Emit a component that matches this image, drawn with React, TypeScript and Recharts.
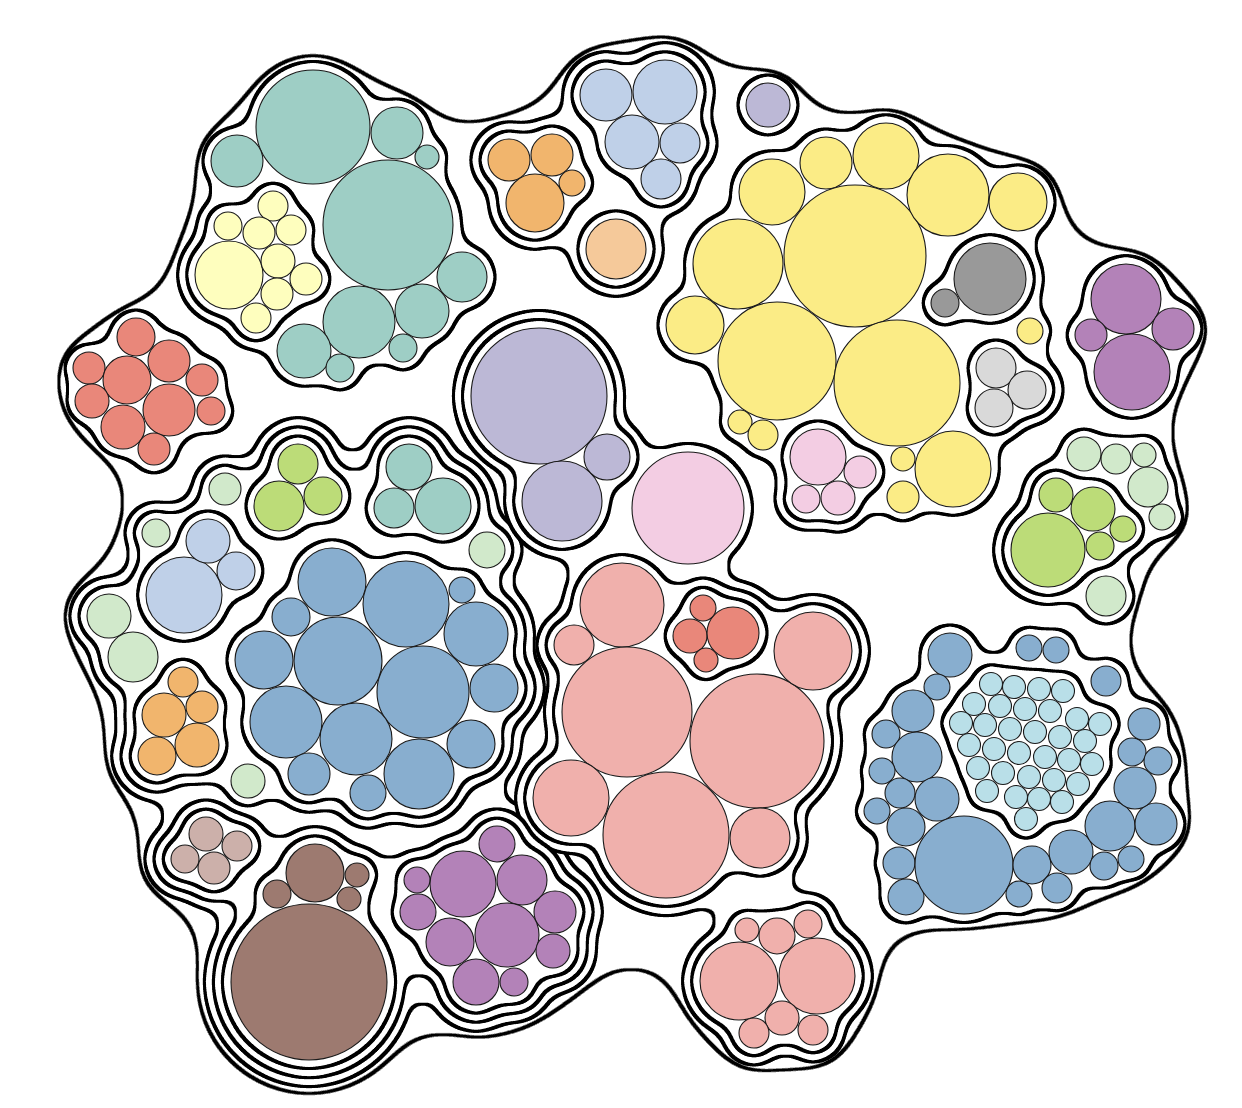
import React from 'react';
import { ScatterChart, Scatter, XAxis, YAxis } from 'recharts';

const W = 1242;
const H = 1108;

type Circ = [number, number, number];

// ---------- leaf data: [x, y, r] ----------
const tealLeaves: Circ[] = [[313,127,57],[237,161,26],[397,133,26],[427,157,12],[388,225,65],[462,277,25],[359,322,36],[422,311,27],[403,348,14],[304,351,27],[340,368,14]];
const paleYellowLeaves: Circ[] = [[229,275,34],[273,206,15],[228,226,14],[259,233,16],[291,230,15],[278,261,17],[306,279,16],[277,294,16],[256,318,15]];
const redLeaves: Circ[] = [[136,337,19],[89,368,16],[127,380,24],[169,361,21],[202,380,16],[92,401,17],[169,410,26],[211,411,14],[123,427,22],[154,449,16]];

const leftMintLeaves: Circ[] = [[225,489,16],[156,533,14],[109,616,22],[133,657,25],[248,781,17],[487,550,18]];
const leftLimeLeaves: Circ[] = [[298,464,20],[279,506,25],[323,496,19]];
const leftTealLeaves: Circ[] = [[409,467,23],[394,508,20],[443,506,28]];
const leftSkyLeaves: Circ[] = [[184,595,38],[208,541,22],[236,571,19]];
const leftOrangeLeaves: Circ[] = [[183,682,15],[164,715,22],[202,707,16],[157,756,19],[197,745,22]];
const leftBlueLeaves: Circ[] = [[332,582,34],[406,604,43],[462,590,13],[291,617,19],[476,634,32],[338,661,44],[264,660,29],[423,692,46],[494,688,24],[286,722,36],[356,739,36],[471,744,24],[419,774,35],[309,774,21],[368,793,18]];

const taupeLeaves: Circ[] = [[206,834,17],[237,846,15],[185,859,14],[214,868,16]];
const brownLeaves: Circ[] = [[309,982,78],[315,873,29],[277,894,14],[357,875,12],[349,899,12]];
const plumLeaves: Circ[] = [[497,844,18],[417,880,13],[463,884,33],[522,880,25],[418,912,18],[555,912,21],[450,942,24],[507,935,32],[553,951,17],[476,982,23],[514,982,14]];

const lavenderLeaves: Circ[] = [[539,396,68],[562,501,40],[607,457,23]];
const pinkSingleLeaves: Circ[] = [[688,508,56]];
const roseLeaves: Circ[] = [[622,605,42],[574,645,20],[627,712,65],[757,741,67],[813,651,39],[571,798,38],[666,835,63],[760,838,30]];
const roseRedLeaves: Circ[] = [[703,608,13],[690,636,17],[733,633,26],[706,660,12]];
const roseBottomLeaves: Circ[] = [[747,930,12],[777,936,18],[808,924,14],[739,981,39],[817,976,38],[782,1018,17],[754,1033,15],[813,1030,15]];

const topOrangeLeaves: Circ[] = [[509,160,21],[552,155,21],[572,183,13],[535,203,29]];
const peachLeaves: Circ[] = [[616,249,30]];
const topSkyLeaves: Circ[] = [[606,95,26],[665,92,32],[632,142,27],[680,143,20],[661,179,20]];
const lilacLeaves: Circ[] = [[768,105,22]];

const yellowLeaves: Circ[] = [[772,192,33],[738,264,45],[695,325,29],[777,361,59],[826,163,26],[855,256,71],[886,156,33],[948,195,41],[1018,202,29],[897,383,63],[953,469,38],[903,459,12],[903,497,16],[1030,331,13],[740,422,12],[763,435,15]];
const greyLeaves: Circ[] = [[990,279,36],[945,303,14]];
const silverLeaves: Circ[] = [[996,368,20],[1027,390,19],[994,408,19]];
const pinkLeaves: Circ[] = [[818,457,28],[860,472,16],[806,499,14],[838,498,17]];

const purpleLeaves: Circ[] = [[1126,299,35],[1091,335,16],[1173,329,21],[1132,372,38]];

const rightMintLeaves: Circ[] = [[1084,454,17],[1116,459,15],[1144,455,12],[1148,487,20],[1162,517,13],[1106,596,20]];
const rightLimeLeaves: Circ[] = [[1048,550,37],[1056,495,17],[1093,509,22],[1123,529,13],[1100,546,14]];

const rightBlueLeaves: Circ[] = [[950,655,22],[937,687,13],[1029,648,13],[1056,650,13],[1106,681,15],[913,711,21],[886,734,14],[917,757,25],[882,771,13],[900,793,15],[937,799,22],[877,811,13],[906,827,19],[899,863,16],[906,897,18],[964,865,49],[1032,865,19],[1019,894,13],[1057,888,15],[1071,852,22],[1104,866,14],[1131,859,13],[1110,826,25],[1156,824,21],[1135,788,21],[1132,752,14],[1158,761,14],[1144,724,16]];
const cyanLeaves: Circ[] = [
  [991,684,11.5],[1014,687,11.5],[1039,689,11.5],[1063,691,11.5],
  [974,704,11.5],[1000,706,11.5],[1025,709,11.5],[1050,711,11.5],[1077,719,11.5],[1100,724,11.5],
  [961,723,11.5],[985,725,11.5],[1010,729,11.5],[1035,732,11.5],[1060,737,11.5],[1085,741,11.5],
  [969,745,11.5],[994,749,11.5],[1019,753,11.5],[1045,757,11.5],[1069,760,11.5],[1092,764,11.5],
  [978,768,11.5],[1003,773,11.5],[1029,777,11.5],[1054,780,11.5],[1078,784,11.5],
  [987,791,11.5],[1016,797,11.5],[1039,799,11.5],[1062,802,11.5],
  [1026,819,11.5],
];

// interior of the outer hull (gaps between top-level groups)
const rootFill: Circ[] = [[530,282,30],[650,392,40],[668,330,24],[703,447,24],[790,566,32],[850,570,38],[915,572,40],[975,592,30],[885,612,28],[255,405,30],[320,415,32],[380,410,28],[640,938,30],[1068,258,22],[842,858,26]];

// ---------- colours ----------
const TEAL = '#9ecec5';
const PALEYELLOW = '#fefebe';
const RED = '#e9877a';
const MINT = '#d1e9cb';
const LIME = '#bcdc78';
const SKY = '#bfd0e8';
const ORANGE = '#f1b56d';
const BLUE = '#88aecf';
const TAUPE = '#ccb0aa';
const BROWN = '#9d7a70';
const PLUM = '#b382b8';
const LAVENDER = '#bcb8d6';
const PINK = '#f3cde3';
const ROSE = '#f0b0ac';
const PEACH = '#f5c99a';
const YELLOW = '#fbec86';
const GREY = '#999999';
const SILVER = '#d9d9d9';
const CYAN = '#b9dfe8';

type Group = { id: string; leaves?: [Circ[], string][]; kids?: Group[]; extra?: Circ[] };

const tree: Group = {
  id: 'root',
  extra: rootFill,
  kids: [
    { id: 'teal', leaves: [[tealLeaves, TEAL]], kids: [{ id: 'paleY', leaves: [[paleYellowLeaves, PALEYELLOW]] }] },
    { id: 'red', leaves: [[redLeaves, RED]] },
    {
      id: 'west',
      kids: [
        {
          id: 'westL',
          leaves: [[leftMintLeaves, MINT]],
          kids: [
            { id: 'lLime', leaves: [[leftLimeLeaves, LIME]] },
            { id: 'lTeal', leaves: [[leftTealLeaves, TEAL]] },
            { id: 'lSky', leaves: [[leftSkyLeaves, SKY]] },
            { id: 'lOrange', leaves: [[leftOrangeLeaves, ORANGE]] },
            { id: 'lBlue', leaves: [[leftBlueLeaves, BLUE]] },
          ],
        },
        {
          id: 'westB',
          kids: [
            { id: 'taupe', leaves: [[taupeLeaves, TAUPE]] },
            { id: 'brown', leaves: [[brownLeaves, BROWN]] },
            { id: 'plum', leaves: [[plumLeaves, PLUM]] },
          ],
        },
      ],
    },
    {
      id: 'center',
      leaves: [[pinkSingleLeaves, PINK]],
      kids: [
        { id: 'lavender', leaves: [[lavenderLeaves, LAVENDER]] },
        { id: 'rose', leaves: [[roseLeaves, ROSE]], kids: [{ id: 'roseRed', leaves: [[roseRedLeaves, RED]] }] },
        { id: 'roseBottom', leaves: [[roseBottomLeaves, ROSE]] },
      ],
    },
    {
      id: 'top',
      kids: [
        { id: 'tOrange', leaves: [[topOrangeLeaves, ORANGE]] },
        { id: 'peach', leaves: [[peachLeaves, PEACH]] },
        { id: 'tSky', leaves: [[topSkyLeaves, SKY]] },
      ],
    },
    { id: 'lilac', leaves: [[lilacLeaves, LAVENDER]] },
    {
      id: 'yellow',
      leaves: [[yellowLeaves, YELLOW]],
      kids: [
        { id: 'grey', leaves: [[greyLeaves, GREY]] },
        { id: 'silver', leaves: [[silverLeaves, SILVER]] },
        { id: 'pink', leaves: [[pinkLeaves, PINK]] },
      ],
    },
    { id: 'purple', leaves: [[purpleLeaves, PLUM]] },
    { id: 'eastGreen', leaves: [[rightMintLeaves, MINT]], kids: [{ id: 'eastLime', leaves: [[rightLimeLeaves, LIME]] }] },
    { id: 'eastBlue', leaves: [[rightBlueLeaves, BLUE]], kids: [{ id: 'cyan', leaves: [[cyanLeaves, CYAN]] }] },
  ],
};

const PAD = 9;
const GAP = 9;
const RING = 3;

function hull(g: Group): Circ[] {
  const out: Circ[] = [];
  (g.leaves || []).forEach(([arr]) => arr.forEach(([x, y, r]) => out.push([x, y, r + PAD])));
  (g.kids || []).forEach((k) => hull(k).forEach(([x, y, r]) => out.push([x, y, r + GAP])));
  (g.extra || []).forEach((c) => out.push(c));
  return out;
}

const disc = (color: string) => (p: any) => (
  <circle cx={p.cx} cy={p.cy} r={p.payload.r} fill={color} />
);
const bubble = (color: string) => (p: any) => (
  <circle cx={p.cx} cy={p.cy} r={p.payload.r} fill={color} stroke="#1a1a1a" strokeWidth={1.1} />
);

// closing (blur/threshold dilate + erode), then black outline band with white interior
function ringFilter(id: string, s: number, t: number) {
  const K = 50;
  return (
    <filter id={id} x="-50%" y="-50%" width="200%" height="200%" colorInterpolationFilters="sRGB">
      <feGaussianBlur in="SourceAlpha" stdDeviation={s} result="b1" />
      <feComponentTransfer in="b1" result="t1">
        <feFuncA type="linear" slope={K} intercept={0.5 - K * t} />
      </feComponentTransfer>
      <feGaussianBlur in="t1" stdDeviation={s} result="b2" />
      <feComponentTransfer in="b2" result="A">
        <feFuncA type="linear" slope={K} intercept={0.5 - K * (1 - t)} />
      </feComponentTransfer>
      <feMorphology in="A" operator="erode" radius={RING} result="E" />
      <feFlood floodColor="#ffffff" floodOpacity={1} result="wf" />
      <feComposite in="wf" in2="E" operator="in" result="Wt" />
      <feMerge>
        <feMergeNode in="A" />
        <feMergeNode in="Wt" />
      </feMerge>
    </filter>
  );
}

export default function App() {
  const levels: Group[][] = [];
  const walk = (g: Group, d: number) => {
    (levels[d] = levels[d] || []).push(g);
    (g.kids || []).forEach((k) => walk(k, d + 1));
  };
  walk(tree, 0);

  const ringSeries: React.ReactElement[] = [];
  levels.forEach((nodes, d) =>
    nodes.forEach((g) =>
      ringSeries.push(
        <Scatter
          key={g.id + '-ring'}
          data={hull(g).map(([x, y, r]) => ({ x, y, r: r + RING / 2 }))}
          className={d === 0 ? 'ring-root' : 'ring-group'}
          shape={disc('#000000')}
          isAnimationActive={false}
        />,
      ),
    ),
  );

  const leafSeries: React.ReactElement[] = [];
  const walkLeaves = (g: Group) => {
    (g.leaves || []).forEach(([arr, color], i) =>
      leafSeries.push(
        <Scatter
          key={g.id + '-leaf-' + i}
          data={arr.map(([x, y, r]) => ({ x, y, r }))}
          shape={bubble(color)}
          isAnimationActive={false}
        />,
      ),
    );
    (g.kids || []).forEach(walkLeaves);
  };
  walkLeaves(tree);

  return (
    <div style={{ position: 'absolute', left: 0, top: 0, width: W, height: H, background: '#fff' }}>
      <style>{`.ring-root{filter:url(#ringRoot);} .ring-group{filter:url(#ringGroup);}`}</style>
      <svg width={0} height={0} style={{ position: 'absolute' }}>
        <defs>
          {ringFilter('ringRoot', 18, 0.15)}
          {ringFilter('ringGroup', 6, 0.06)}
        </defs>
      </svg>
      <ScatterChart width={W} height={H} margin={{ top: 0, right: 0, bottom: 0, left: 0 }}>
        <XAxis type="number" dataKey="x" domain={[0, W]} hide height={0} />
        <YAxis type="number" dataKey="y" domain={[0, H]} reversed hide width={0} />
        {ringSeries}
        {leafSeries}
      </ScatterChart>
    </div>
  );
}
